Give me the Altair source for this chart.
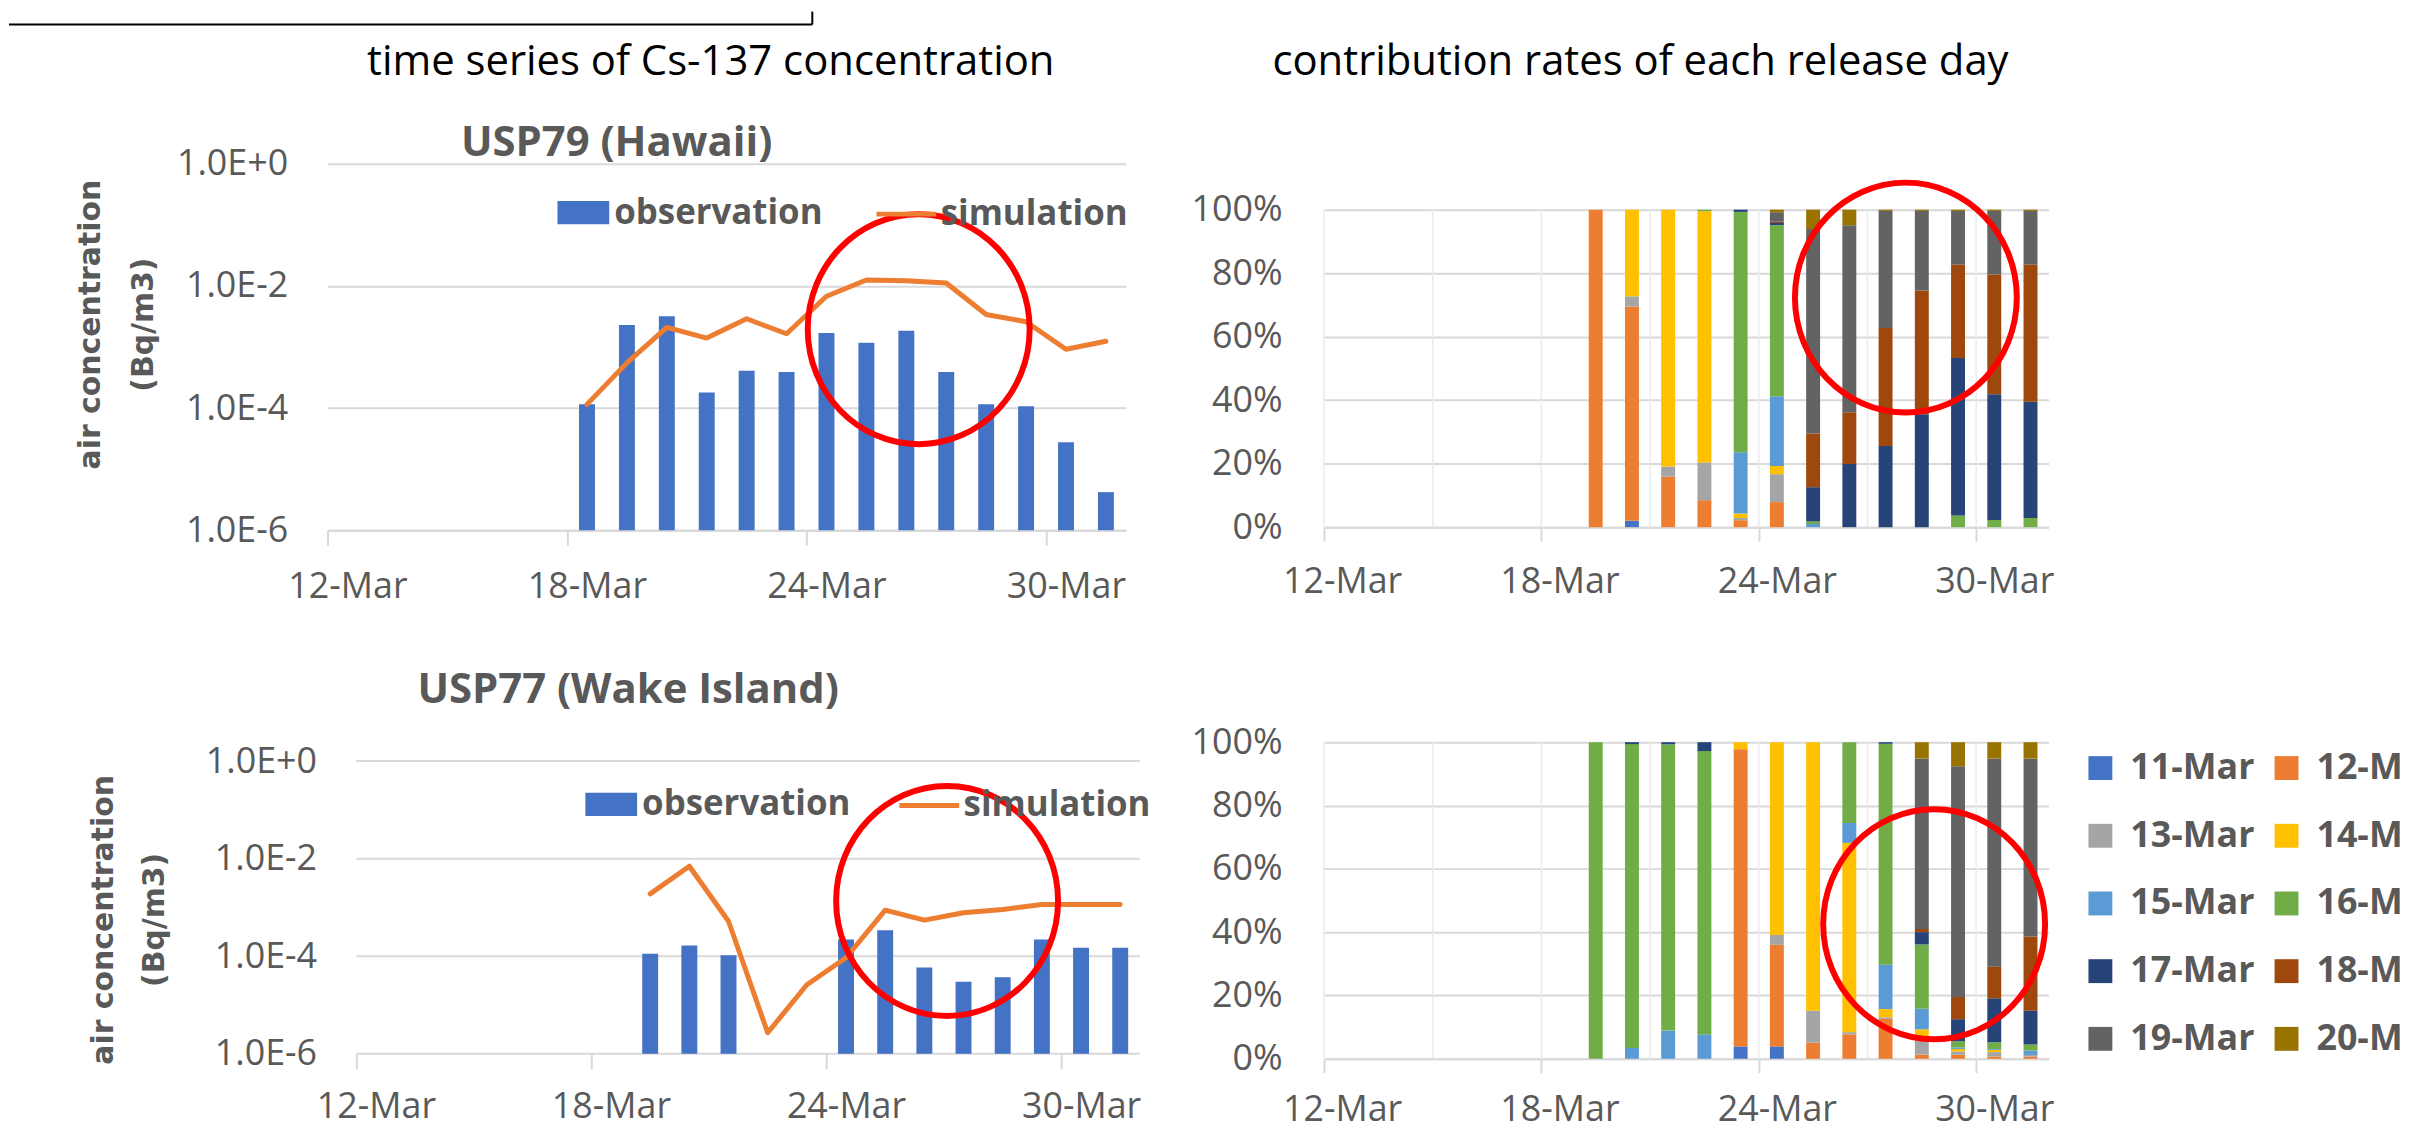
import altair as alt
import pandas as pd

FONT = "Open Sans"
GRAY = "#595959"
GRID = "#D9D9D9"
RED = "#FF0000"

# ---------------- data ----------------
tick_days = [12, 18, 24, 30]
tick_labels = ["12-Mar", "18-Mar", "24-Mar", "30-Mar"]
vgrid_days = [12, 15, 18, 21, 24, 27, 30]
log_ticks = [1e-6, 1e-4, 1e-2, 1.0]
pct_ticks = [0.0, 0.2, 0.4, 0.6, 0.8, 1.0]

header_left = "time series of Cs-137 concentration"
header_right = "contribution rates of each release day"
title_hawaii = "USP79 (Hawaii)"
title_wake = "USP77 (Wake Island)"
y_title = ["air concentration", "(Bq/m3)"]

hawaii_days = [18, 19, 20, 21, 22, 23, 24, 25, 26, 27, 28, 29, 30, 31]
hawaii_obs = [1.15e-4, 2.3e-3, 3.2e-3, 1.8e-4, 4.1e-4, 3.9e-4, 1.7e-3,
              1.17e-3, 1.85e-3, 3.9e-4, 1.15e-4, 1.07e-4, 2.75e-5, 4.2e-6]
hawaii_sim = [1.15e-4, 5.5e-4, 2.1e-3, 1.4e-3, 2.9e-3, 1.65e-3, 6.8e-3,
              1.25e-2, 1.22e-2, 1.12e-2, 3.4e-3, 2.6e-3, 9.2e-4, 1.24e-3]

wake_obs_days = [19, 20, 21, 24, 25, 26, 27, 28, 29, 30, 31]
wake_obs = [1.13e-4, 1.65e-4, 1.05e-4, 2.2e-4, 3.4e-4, 5.9e-5, 3.0e-5,
            3.7e-5, 2.2e-4, 1.5e-4, 1.5e-4]
wake_sim_days = [19, 20, 21, 22, 23, 24, 25, 26, 27, 28, 29, 30, 31]
wake_sim = [1.9e-3, 7.0e-3, 5.2e-4, 2.7e-6, 2.6e-5, 9.3e-5, 8.8e-4,
            5.5e-4, 7.8e-4, 9.1e-4, 1.15e-3, 1.15e-3, 1.15e-3]

release_days = ["11-Mar", "12-Mar", "13-Mar", "14-Mar", "15-Mar",
                "16-Mar", "17-Mar", "18-Mar", "19-Mar", "20-Mar"]
release_colors = ["#4472C4", "#ED7D31", "#A5A5A5", "#FFC000", "#5B9BD5",
                  "#70AD47", "#264478", "#9E480E", "#636363", "#997300"]
# second legend column is cut by the right edge of the picture
legend_cut_labels = release_days[1::2]

contrib_days = [19, 20, 21, 22, 23, 24, 25, 26, 27, 28, 29, 30, 31]
hawaii_contrib = {
    "11-Mar": [0, 2.0, 0, 0, 0, 0, 0, 0, 0, 0, 0, 0, 0],
    "12-Mar": [100, 67.5, 15.9, 8.5, 2.2, 7.9, 0, 0, 0, 0, 0, 0, 0],
    "13-Mar": [0, 3.2, 3.2, 11.9, 0.7, 8.8, 0, 0, 0, 0, 0, 0, 0],
    "14-Mar": [0, 27.3, 80.9, 79.1, 1.4, 2.6, 0, 0, 0, 0, 0, 0, 0],
    "15-Mar": [0, 0, 0, 0, 19.3, 21.9, 1.0, 0, 0, 0, 0, 0, 0],
    "16-Mar": [0, 0, 0, 0.5, 75.7, 53.9, 0.8, 0, 0, 0, 3.7, 2.3, 2.9],
    "17-Mar": [0, 0, 0, 0, 0.7, 0.7, 10.8, 19.9, 25.6, 35.6, 49.6, 39.6, 36.6],
    "18-Mar": [0, 0, 0, 0, 0, 0.4, 16.9, 16.3, 37.1, 38.9, 29.4, 37.7, 43.2],
    "19-Mar": [0, 0, 0, 0, 0, 3.0, 64.4, 58.9, 36.9, 25.1, 16.9, 20.0, 16.9],
    "20-Mar": [0, 0, 0, 0, 0, 0.8, 6.1, 4.9, 0.4, 0.4, 0.4, 0.4, 0.4],
}
wake_contrib = {
    "11-Mar": [0, 0, 0, 0, 3.9, 3.9, 0, 0, 0, 0, 0, 0, 0],
    "12-Mar": [0, 0, 0, 0, 93.9, 32.1, 5.1, 7.7, 12.6, 1.3, 1.3, 0.7, 0.7],
    "13-Mar": [0, 0, 0, 0, 0, 3.1, 10.1, 0.7, 0.5, 4.5, 1.0, 1.4, 0.5],
    "14-Mar": [0, 0, 0, 0, 2.2, 60.9, 84.8, 59.8, 2.6, 3.5, 0.8, 0.7, 0],
    "15-Mar": [0, 3.4, 8.9, 7.7, 0, 0, 0, 6.3, 14.0, 6.5, 0.5, 0.3, 1.4],
    "16-Mar": [100, 96.0, 90.4, 89.5, 0, 0, 0, 25.5, 69.8, 20.3, 1.9, 2.1, 1.9],
    "17-Mar": [0, 0.6, 0.7, 2.8, 0, 0, 0, 0, 0.5, 3.9, 7.0, 13.9, 10.7],
    "18-Mar": [0, 0, 0, 0, 0, 0, 0, 0, 0, 1.0, 7.0, 10.0, 23.4],
    "19-Mar": [0, 0, 0, 0, 0, 0, 0, 0, 0, 53.8, 72.9, 65.7, 56.2],
    "20-Mar": [0, 0, 0, 0, 0, 0, 0, 0, 0, 5.2, 7.6, 5.2, 5.2],
}

# red highlight circles (centre day, centre value)
circle_hawaii_ts = (26.81, 1.96e-3)
circle_hawaii_ct = (28.06, 0.723)
circle_wake_ts = (27.08, 1.36e-3)
circle_wake_ct = (28.84, 0.425)

# ---------------- helpers ----------------
ONE = pd.DataFrame({"k": [0]})
ELLIPSE = ("M0,-1C0.533,-1,0.965,-0.552,0.965,0C0.965,0.552,0.533,1,0,1"
           "C-0.533,1,-0.965,0.552,-0.965,0C-0.965,-0.552,-0.533,-1,0,-1Z")
RING_SIZE = 231 * 231
RECT_SYM = "M-1,-0.45L1,-0.45L1,0.45L-1,0.45Z"
LABEL_EXPR = "({" + ", ".join(f"'{d}': '{l}'" for d, l in zip(tick_days, tick_labels)) + "})[datum.value]"
CUT_EXPR = ("indexof([" + ", ".join(f"'{l}'" for l in legend_cut_labels) +
            "], datum.label) >= 0 ? slice(datum.label, 0, 4) : datum.label")


def text(t, x, y, size, weight="normal", color=GRAY, font=FONT):
    return alt.Chart(pd.DataFrame({"t": [t]})).mark_text(
        font=font, fontSize=size, fontWeight=weight, color=color,
        align="center", baseline="alphabetic").encode(
        x=alt.value(x), y=alt.value(y), text="t:N")


def x_axis(day_w, tick, pad, domain=True):
    return alt.Axis(values=tick_days, labelExpr=LABEL_EXPR, labelOffset=day_w / 2,
                    tickSize=tick, tickWidth=2, tickColor=GRID, domain=domain,
                    domainColor=GRID, domainWidth=2, grid=False, labelPadding=pad,
                    labelFontSize=36, labelFont=FONT, labelColor=GRAY, labelAngle=0,
                    labelFlush=False, labelOverlap=False, title=None)


def log_axis(tx, ty, lh, pad, grid=True):
    return alt.Axis(values=log_ticks,
                    labelExpr="replace(format(datum.value, '.1e'), 'e', 'E')",
                    grid=grid, gridColor=GRID, gridWidth=2, ticks=False, domain=False,
                    labelPadding=pad, labelFontSize=36, labelFont=FONT, labelColor=GRAY,
                    labelFlush=False, labelOverlap=False,
                    title=y_title, titleFont="DejaVu Sans", titleFontWeight="bold",
                    titleFontSize=30, titleColor=GRAY, titleAngle=270, titleX=tx,
                    titleY=ty, titleAlign="center", titleBaseline="middle",
                    titleLineHeight=lh)


def pct_axis():
    return alt.Axis(values=pct_ticks, format=".0%", grid=True, gridColor=GRID,
                    gridWidth=2, ticks=False, domain=False, labelPadding=42,
                    labelFontSize=36, labelFont=FONT, labelColor=GRAY,
                    labelFlush=False, labelOverlap=False, title=None)


def ring(c, xs, ys, xa, ya, yfield):
    df = pd.DataFrame({"xc": [c[0]], yfield: [c[1]]})
    return alt.Chart(df).mark_point(shape=ELLIPSE, size=RING_SIZE, filled=False,
                                    color=RED, strokeWidth=6, opacity=1).encode(
        x=alt.X("xc:Q", scale=xs, axis=xa),
        y=alt.Y(f"{yfield}:Q", scale=ys, axis=ya))


def ts_layers(obs_days, obs, sim_days, sim, xs, ys, xa, ya, obs_leg, sim_leg, circ):
    dfo = pd.DataFrame({"xc": [d + 0.5 for d in obs_days], "v": obs,
                        "series": "observation"})
    dfs = pd.DataFrame({"xc": [d + 0.5 for d in sim_days], "v": sim,
                        "series": "simulation"})
    bars = alt.Chart(dfo).mark_bar(size=16).encode(
        x=alt.X("xc:Q", scale=xs, axis=xa),
        y=alt.Y("v:Q", scale=ys, axis=ya),
        y2=alt.datum(1e-6),
        color=alt.Color("series:N",
                        scale=alt.Scale(domain=["observation"], range=["#4472C4"]),
                        legend=alt.Legend(orient="none", legendX=obs_leg[0],
                                          legendY=obs_leg[1], title=None, padding=0,
                                          symbolType=RECT_SYM, symbolSize=52 * 52,
                                          symbolStrokeWidth=0, labelOffset=5,
                                          labelLimit=400,
                                          labelFontSize=35, labelFont=FONT,
                                          labelFontWeight="bold", labelColor=GRAY)))
    line = alt.Chart(dfs).mark_line(strokeWidth=5, strokeJoin="round",
                                    strokeCap="round").encode(
        x=alt.X("xc:Q", scale=xs, axis=xa),
        y=alt.Y("v:Q", scale=ys, axis=ya),
        stroke=alt.Stroke("series:N",
                          scale=alt.Scale(domain=["simulation"], range=["#ED7D31"]),
                          legend=alt.Legend(orient="none", legendX=sim_leg[0],
                                            legendY=sim_leg[1], title=None, padding=0,
                                            symbolType="stroke", symbolSize=60 * 60,
                                            symbolStrokeWidth=5, labelOffset=2,
                                            labelLimit=400,
                                            labelFontSize=35, labelFont=FONT,
                                            labelFontWeight="bold", labelColor=GRAY)))
    return bars, line, ring(circ, xs, ys, xa, ya, "v")


def contrib_layers(contrib, xs, ys, xa, ya, legend, circ):
    rows = []
    for i, rel in enumerate(release_days):
        for d, v in zip(contrib_days, contrib[rel]):
            if v > 0:
                rows.append({"xc": d + 0.5, "pct": v / 100.0, "rel": rel, "idx": i})
    df = pd.DataFrame(rows)
    grid = alt.Chart(pd.DataFrame({"g": vgrid_days, "lo": 0.0, "hi": 1.0})).mark_rule(
        color="#EBEBEB", strokeWidth=1.5).encode(
        x=alt.X("g:Q", scale=xs, axis=xa),
        y=alt.Y("lo:Q", scale=ys, axis=ya), y2="hi:Q")
    bars = alt.Chart(df).mark_bar(size=14, orient="vertical").encode(
        x=alt.X("xc:Q", scale=xs, axis=xa),
        y=alt.Y("pct:Q", stack="zero", scale=ys, axis=ya),
        color=alt.Color("rel:N", scale=alt.Scale(domain=release_days,
                                                 range=release_colors),
                        legend=legend),
        order=alt.Order("idx:Q", sort="ascending"))
    return grid, bars, ring(circ, xs, ys, xa, ya, "pct")


# ---------------- panels ----------------
# top-left: plot origin (328,161), 802 x 368
XS_TL = alt.Scale(domain=[12, 32], nice=False, zero=False, padding=0)
YS_TL = alt.Scale(type="log", domain=[1e-6, 1.0], nice=False)
XA_TL = x_axis(40.1, 15, 25)
YA_TL = log_axis(-238.5, 161, 53.5, 40)
tl_bars, tl_line, tl_circ = ts_layers(
    hawaii_days, hawaii_obs, hawaii_days, hawaii_sim, XS_TL, YS_TL, XA_TL, YA_TL,
    (231, 23), (549, 18), circle_hawaii_ts)
box_h = alt.Chart(ONE).mark_rule(color="black", strokeWidth=2).encode(
    x=alt.value(-320), x2=alt.value(487), y=alt.value(-140))
box_v = alt.Chart(ONE).mark_rule(color="black", strokeWidth=2).encode(
    x=alt.value(487), y=alt.value(-153), y2=alt.value(-140))
TL = alt.layer(
    tl_bars, tl_line, tl_circ,
    text(header_left, 385, -89, 42, color="#000000"),
    text(title_hawaii, 290.5, -8, 42, weight="bold"),
    box_h, box_v,
).properties(width=802, height=368)

# top-right: plot area (1329,207) 728 x 319, view extended up to y=161
TR_TOP = 365 / 319
XS_TR = alt.Scale(domain=[12, 32], nice=False, zero=False, padding=0)
YS_TR = alt.Scale(domain=[0, TR_TOP], nice=False, zero=True)
tr_grid, tr_bars, tr_circ = contrib_layers(
    hawaii_contrib, XS_TR, YS_TR, x_axis(36.4, 14, 24), pct_axis(), None,
    circle_hawaii_ct)
TR = alt.layer(
    tr_grid, tr_bars, tr_circ,
    text(header_right, 318, -89, 42, color="#000000"),
).properties(width=728, height=365)

# bottom-left: plot area (357,761) 787 x 294, view extended to (328,742)
BL_DAY = 787 / 20
BL_X0 = 12 - 29 / BL_DAY
BL_TOP = 10 ** (19 / 49)
XS_BL = alt.Scale(domain=[BL_X0, 32], nice=False, zero=False, padding=0)
YS_BL = alt.Scale(type="log", domain=[1e-6, BL_TOP], nice=False)
XA_BL = x_axis(BL_DAY, 15, 21, domain=False)
YA_BL = log_axis(-225, 178, 51, 11, grid=False)
bl_bars, bl_line, bl_circ = ts_layers(
    wake_obs_days, wake_obs, wake_sim_days, wake_sim, XS_BL, YS_BL, XA_BL, YA_BL,
    (259, 36.5), (572, 31), circle_wake_ts)
bl_grid = alt.Chart(pd.DataFrame({"v": log_ticks, "a": 12, "b": 32})).mark_rule(
    color=GRID, strokeWidth=2).encode(
    y=alt.Y("v:Q", scale=YS_BL, axis=YA_BL),
    x=alt.X("a:Q", scale=XS_BL, axis=XA_BL), x2="b:Q")
BL = alt.layer(
    bl_grid, bl_bars, bl_line, bl_circ,
    text(title_wake, 302, -39, 42, weight="bold"),
).properties(width=816, height=313)

# bottom-right: plot origin (1329,742), 728 x 318
br_legend = alt.Legend(orient="none", legendX=762, legendY=8, title=None, padding=0,
                       columns=2, direction="horizontal", symbolType="square",
                       symbolSize=576, symbolStrokeWidth=0, labelOffset=12,
                       columnPadding=14, rowPadding=32, labelLimit=400,
                       labelExpr=CUT_EXPR,
                       labelFontSize=36, labelFont=FONT,
                       labelFontWeight="bold", labelColor=GRAY)
XS_BR = alt.Scale(domain=[12, 32], nice=False, zero=False, padding=0)
YS_BR = alt.Scale(domain=[0, 1], nice=False)
br_grid, br_bars, br_circ = contrib_layers(
    wake_contrib, XS_BR, YS_BR, x_axis(36.4, 14, 20), pct_axis(), br_legend,
    circle_wake_ct)
BR = alt.layer(br_grid, br_bars, br_circ).properties(width=728, height=318)

chart = alt.concat(
    TL, TR, BL, BR, columns=2, spacing={"row": 213, "column": 185}, bounds="flush"
).resolve_scale(
    color="independent", stroke="independent"
).resolve_legend(
    color="independent", stroke="independent"
).properties(padding=0).configure(font=FONT).configure_view(strokeWidth=0)

chart.save("out.html", embed_options={"renderer": "svg", "actions": False})
